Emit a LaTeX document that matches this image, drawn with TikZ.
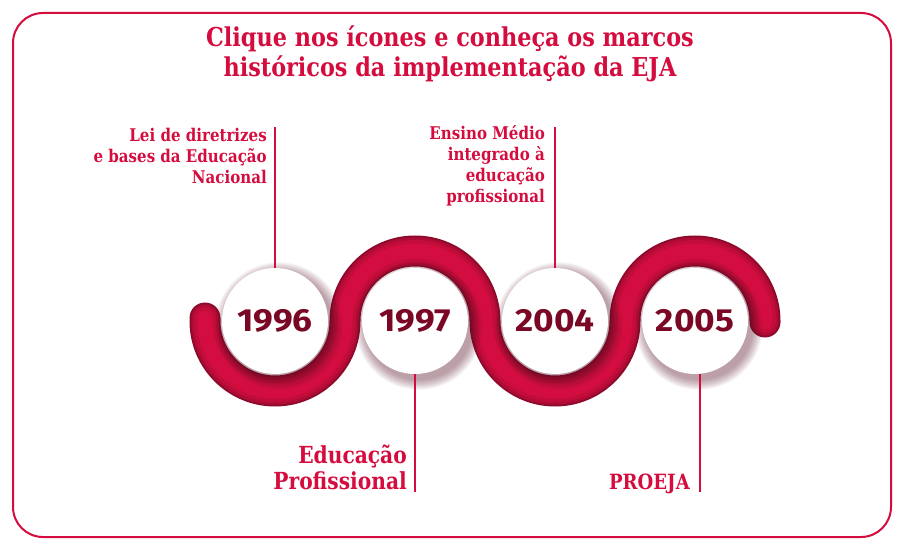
\documentclass[tikz,border=0pt]{standalone}
\usepackage{fontspec}
\newfontfamily\titlefont[FakeStretch=0.86]{DejaVu Serif}
\newfontfamily\labelfont[FakeStretch=0.86]{DejaVu Serif}
\newfontfamily\yearfont[FakeStretch=1.1]{Fira Sans}
\definecolor{ejared}{HTML}{D50C3E}
\definecolor{ejadark}{HTML}{7A0824}
\definecolor{tubeedge}{HTML}{8E0A2C}
\definecolor{tubemid}{HTML}{B00B35}
\definecolor{tubelite}{HTML}{D30D3F}
\definecolor{shadowc}{HTML}{5A1028}
\tikzset{
  frame/.style={draw=ejared, line width=2pt, rounded corners=30pt},
  yearcircle/.style={circle, fill=white, minimum size=106pt, inner sep=0pt,
     font=\yearfont\bfseries\fontsize{32}{32}\selectfont, text=ejadark},
  pin/.style={draw=ejared, line width=1.5pt},
  smalllabel/.style={inner sep=0pt, align=right, text=ejared,
     font=\labelfont\bfseries\fontsize{17.5}{21}\selectfont},
  biglabel/.style={inner sep=0pt, align=right, text=ejared,
     font=\labelfont\bfseries\fontsize{23.5}{26}\selectfont},
  titletext/.style={inner sep=0pt, align=center, text=ejared,
     font=\titlefont\bfseries\fontsize{26}{30}\selectfont},
}
\begin{document}
\begin{tikzpicture}[x=1pt,y=1pt]
\useasboundingbox (0,0) rectangle (906,550);
\fill[white] (0,0) rectangle (906,550);
\draw[frame] (13,13) rectangle (891,537);

% title
\node[titletext, anchor=north] (title) at (450,524)
  {Clique nos ícones e conheça os marcos\\históricos da implementação da EJA};

% wavy tube
\def\tubepath{(205,232) -- (205,229) arc[start angle=180,end angle=360,radius=70]
  arc[start angle=180,end angle=0,radius=70]
  arc[start angle=180,end angle=360,radius=70]
  arc[start angle=180,end angle=0,radius=70] -- (765,228)}
\draw[line cap=round, line width=31pt, tubeedge] \tubepath;
\draw[line cap=round, line width=27pt, tubemid] \tubepath;
\draw[line cap=round, line width=22pt, tubemid!50!tubelite] \tubepath;
\draw[line cap=round, line width=15pt, tubelite] \tubepath;

% circle shadows
\foreach \cx in {275,415,555,695}{
  \foreach \k in {1,...,12}{
    \fill[shadowc, opacity=0.04] (\cx+4,224) circle[radius=53+\k*0.9];
  }
}

% year circles
\node[yearcircle] (y1996) at (275,229) {1996};
\node[yearcircle] (y1997) at (415,229) {1997};
\node[yearcircle] (y2004) at (555,229) {2004};
\node[yearcircle] (y2005) at (695,229) {2005};

% pins
\coordinate (p1996) at (275,423);
\coordinate (p1997) at (415,58);
\coordinate (p2004) at (555,423);
\coordinate (q2005) at (700,176);
\coordinate (p2005) at (700,58);
\draw[pin] (p1996) -- (y1996.north);
\draw[pin] (y1997.south) -- (p1997);
\draw[pin] (p2004) -- (y2004.north);
\draw[pin] (q2005) -- (p2005);

% labels
\node[smalllabel, anchor=north east] (l1996) at (267,422)
  {Lei de diretrizes\\e bases da Educação\\Nacional};
\node[smalllabel, anchor=north east] (l2004) at (545,425)
  {Ensino Médio\\integrado à\\educação\\profissional};
\node[biglabel, anchor=south east] (l1997) at (407,60)
  {Educação\\Profissional};
\node[biglabel, anchor=base east, font=\labelfont\bfseries\fontsize{21}{25}\selectfont] (l2005) at (690,61) {PROEJA};
\end{tikzpicture}
\end{document}
